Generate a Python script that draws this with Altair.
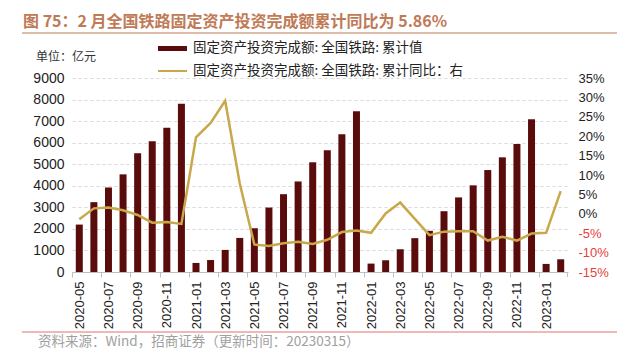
import altair as alt
import pandas as pd

months = [
    "2020-05", "2020-06", "2020-07", "2020-08", "2020-09", "2020-10", "2020-11", "2020-12",
    "2021-01", "2021-02", "2021-03", "2021-04", "2021-05", "2021-06", "2021-07", "2021-08",
    "2021-09", "2021-10", "2021-11", "2021-12",
    "2022-01", "2022-02", "2022-03", "2022-04", "2022-05", "2022-06", "2022-07", "2022-08",
    "2022-09", "2022-10", "2022-11", "2022-12",
    "2023-01", "2023-02",
]
cum_value = [
    2200, 3240, 3920, 4530, 5510, 6070, 6690, 7800,
    420, 555, 1025, 1580, 2030, 2990, 3610, 4200, 5090, 5650, 6390, 7460,
    390, 545, 1055, 1570, 1910, 2820, 3460, 4020, 4730, 5320, 5940, 7090,
    375, 590,
]
cum_yoy = [
    -1.4, 1.4, 1.6, 0.9, -0.3, -2.3, -2.1, -2.6,
    19.7, 23.4, 29.1, 7.8, -7.9, -8.3, -7.6, -7.2, -7.8, -6.7, -4.7, -4.3,
    -4.9, 0.1, 2.9, -1.3, -5.5, -4.6, -4.5, -4.5, -6.9, -5.9, -6.9, -5.1,
    -4.9, 5.86,
]
tick_labels = months[::2]
left_ticks = [0, 1000, 2000, 3000, 4000, 5000, 6000, 7000, 8000, 9000]
right_ticks = [-15, -10, -5, 0, 5, 10, 15, 20, 25, 30, 35]

title_text = "图 75：2 月全国铁路固定资产投资完成额累计同比为 5.86%"
legend_bar = "固定资产投资完成额: 全国铁路: 累计值"
legend_line = "固定资产投资完成额: 全国铁路: 累计同比：右"
unit_text = "单位：亿元"
source_text = "资料来源：Wind，招商证券（更新时间：20230315）"

df = pd.DataFrame({"month": months, "value": cum_value, "yoy": cum_yoy})

BAR = "#5a0c0c"
LINE = "#c8a84b"
CJK = "Noto Sans CJK SC"
LAT = "Liberation Sans"
W, H = 496, 194
band = W / len(months)

x_enc = alt.X(
    "month:N",
    sort=months,
    scale=alt.Scale(paddingInner=0, paddingOuter=0),
    axis=alt.Axis(
        title=None,
        values=tick_labels,
        labelAngle=270,
        labelAlign="right",
        labelBaseline="middle",
        labelFont=LAT,
        labelFontSize=13,
        labelColor="#222222",
        labelPadding=4,
        tickOffset=-band / 2,
        labelOffset=band / 2,
        tickSize=5,
        tickColor="#bfbfbf",
        domainColor="#bfbfbf",
        grid=False,
    ),
)

bars = alt.Chart(df).mark_bar(color=BAR, size=7).encode(
    x=x_enc,
    y=alt.Y(
        "value:Q",
        scale=alt.Scale(domain=[0, 9000], nice=False),
        axis=alt.Axis(
            title=None,
            values=left_ticks,
            format="d",
            orient="left",
            labelFont=LAT,
            labelFontSize=14,
            labelColor="#222222",
            labelPadding=8,
            ticks=False,
            domain=False,
            grid=True,
            gridColor="#d9d9d9",
            gridDash=[3, 3],
        ),
    ),
)

line = alt.Chart(df).mark_line(color=LINE, strokeWidth=2.5).encode(
    x=alt.X("month:N", sort=months),
    y=alt.Y(
        "yoy:Q",
        scale=alt.Scale(domain=[-15, 35], nice=False),
        axis=alt.Axis(
            title=None,
            values=right_ticks,
            orient="right",
            labelExpr="datum.value + '%'",
            labelFont=LAT,
            labelFontSize=13,
            labelColor={"condition": {"test": "datum.value < 0", "value": "#e8403a"}, "value": "#222222"},
            labelPadding=10,
            ticks=False,
            domain=False,
            grid=False,
        ),
    ),
)


def one():
    return alt.Data(values=[{"k": 1}])


def text(t, x, y, size, color, font=CJK, weight="normal", align="left"):
    return alt.Chart(one()).mark_text(
        text=t, font=font, fontSize=size, color=color, fontWeight=weight,
        align=align, baseline="middle"
    ).encode(x=alt.value(x), y=alt.value(y))


title = text(title_text, -49, -56, 16, "#c07a56", weight="bold")
title_rule = alt.Chart(one()).mark_rule(color="#d4a68c", strokeWidth=1.5).encode(
    x=alt.value(-50), x2=alt.value(545), y=alt.value(-45)
)
end_tick = alt.Chart(one()).mark_rule(color="#bfbfbf", strokeWidth=1).encode(
    x=alt.value(W - 0.5), y=alt.value(H), y2=alt.value(H + 5)
)
leg_rect = alt.Chart(one()).mark_rect(color=BAR).encode(
    x=alt.value(86), x2=alt.value(115), y=alt.value(-32), y2=alt.value(-27)
)
leg_rule = alt.Chart(one()).mark_rule(color=LINE, strokeWidth=2).encode(
    x=alt.value(86), x2=alt.value(115), y=alt.value(-7)
)
leg_t1 = text(legend_bar, 121, -30, 13.5, "#222222")
leg_t2 = text(legend_line, 121, -7, 13.5, "#222222")
unit = text(unit_text, -36, -21, 12, "#333333")
bottom_rule = alt.Chart(one()).mark_rule(color="#e07070", strokeWidth=1).encode(
    x=alt.value(-50), x2=alt.value(545), y=alt.value(254)
)
source = text(source_text, -34, 264, 13.5, "#a0a0a0")

plot = alt.layer(bars, line).resolve_scale(y="independent")

chart = alt.layer(
    plot, title, title_rule, end_tick, leg_rect, leg_rule, leg_t1, leg_t2, unit, bottom_rule, source
).properties(
    width=W,
    height=H,
    padding={"left": 64, "top": 70, "right": 64, "bottom": 80},
    autosize=alt.AutoSizeParams(type="none"),
).configure_view(stroke=None)

chart.save("out.html", embed_options={"renderer": "svg", "actions": False})
